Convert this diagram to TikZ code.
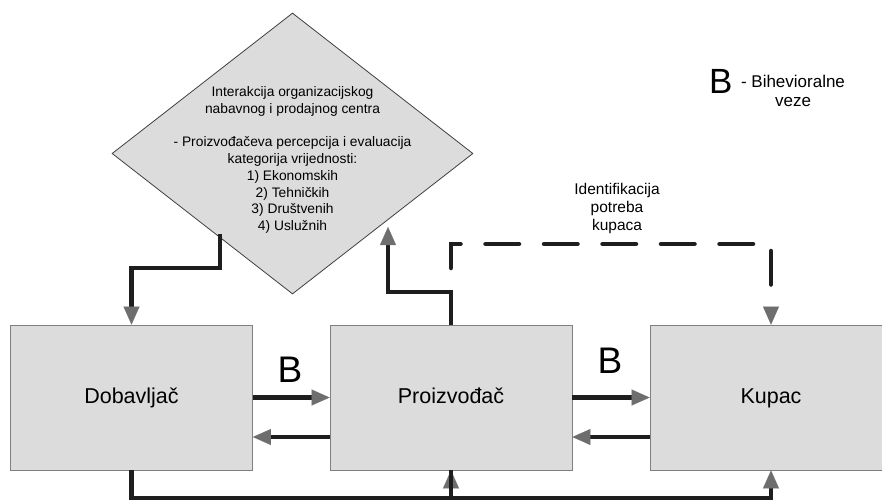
\documentclass[tikz,border=0pt]{standalone}
\usepackage{fontspec}
\setmainfont{Liberation Sans}
\usetikzlibrary{arrows.meta,shapes.geometric,calc}
\definecolor{boxfill}{HTML}{DCDCDC}
\definecolor{boxline}{HTML}{808080}
\definecolor{dialine}{HTML}{404040}
\definecolor{linec}{HTML}{1E1E1E}
\definecolor{tipc}{HTML}{6E6E6E}
\begin{document}
\begin{tikzpicture}[x=1pt,y=-1pt,
  box/.style={draw=boxline,fill=boxfill,line width=0.8pt,minimum width=242pt,minimum height=145pt,inner sep=0pt,text height=15.4pt,text depth=4pt,font=\fontsize{21.5}{24}\selectfont},
  conn/.style={draw=linec,line width=4.5pt,-{Triangle[length=18pt,width=16pt,color=tipc,line width=0.1pt]}},
  plainline/.style={draw=linec,line width=4.5pt},
  dashconn/.style={conn,line cap=round,dash pattern=on 33.5pt off 25pt},
  bigb/.style={font=\fontsize{37}{40}\selectfont,anchor=base,inner sep=0pt}
]
\useasboundingbox (0,0) rectangle (882,503);

% boxes
\node[box] (dob) at (131.5,397.5) {Dobavljač};
\node[box] (pro) at (451,397.5) {Proizvođač};
\node[box] (kup) at (771,397.5) {Kupac};

% diamond
\node[diamond,draw=dialine,fill=boxfill,line width=0.8pt,minimum width=361pt,minimum height=281pt,inner sep=0pt] (dia) at (292.5,153.5) {};
\node[align=center,font=\fontsize{13.8}{16.75}\selectfont,inner sep=0pt] (dtext) at (292.5,160)
  {Interakcija organizacijskog\\nabavnog i prodajnog centra\\[16.75pt]- Proizvođačeva percepcija i evaluacija\\kategorija vrijednosti:\\1) Ekonomskih\\2) Tehničkih\\3) Društvenih\\4) Uslužnih};

% coordinates
\coordinate (d1) at (220,234);
\coordinate (k1) at (220,268);
\coordinate (k2) at (388,292);
\coordinate (d2) at (388,227);
\coordinate (k3) at (451,268);
\coordinate (k4) at (771,244);
\coordinate (k6) at (771,498);

% diamond -> Dobavljac
\draw[conn] (d1) |- (k1) -| (dob.north);
% Proizvodac -> diamond
\draw[conn] (pro.north) |- (k2) -- (d2);
% dashed: identification of customer needs
\draw[dashconn] (k3) |- (k4) -- (kup.north);

% horizontal arrows
\draw[conn] (dob.east) -- (pro.west);
\draw[conn] ([yshift=-39.5pt]pro.west) -- ([yshift=-39.5pt]dob.east);
\draw[conn] (pro.east) -- (kup.west);
\draw[conn] ([yshift=-39.5pt]kup.west) -- ([yshift=-39.5pt]pro.east);

% bottom connector
\draw[conn] (dob.south) |- (k6) -- (kup.south);
\draw[conn] (pro.south |- k6) -- (pro.south);
\draw[plainline] (pro.south |- k6) -- (pro.south);

% labels
\node[bigb] (b1) at (290,382) {B};
\node[bigb] (b2) at (610,373) {B};
\node[align=center,font=\fontsize{15.5}{18}\selectfont,inner sep=0pt] (idl) at (617,208) {Identifikacija\\potreba\\kupaca};

% legend
\node[font=\fontsize{35}{38}\selectfont,anchor=base west,inner sep=0pt] (lb) at (709,93) {B};
\node[align=center,font=\fontsize{17}{19}\selectfont,inner sep=0pt] (lt) at (793,91) {- Bihevioralne\\veze};
\end{tikzpicture}
\end{document}
